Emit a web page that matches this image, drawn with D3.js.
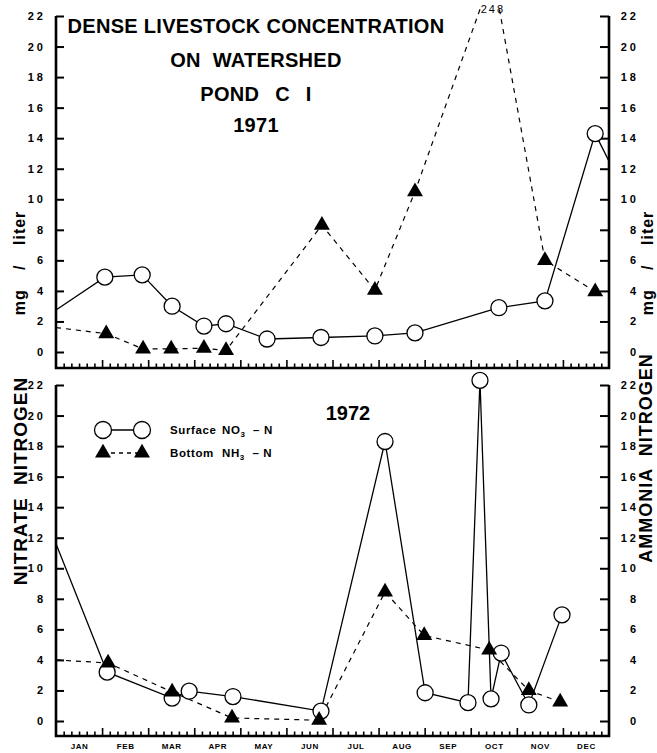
<!DOCTYPE html>
<html>
<head>
<meta charset="utf-8">
<script src="https://cdn.jsdelivr.net/npm/d3@7"></script>
<style>
  body { margin: 0; background: #fff; }
  svg { display: block; }
  text { font-family: "Liberation Sans", Arial, sans-serif; font-weight: bold; fill: #000; }
</style>
</head>
<body>
<div id="chart"></div>
<script>
// month labels along the bottom, tick values on both y axes
const months = ["JAN", "FEB", "MAR", "APR", "MAY", "JUN", "JUL", "AUG", "SEP", "OCT", "NOV", "DEC"];
const yTicks = [0, 2, 4, 6, 8, 10, 12, 14, 16, 18, 20, 22];

// positions are in months from Jan 1 (0) to Dec 31 (12), values in mg/liter
// 1971
const surface1971 = [[1.06, 4.9], [1.87, 5.05], [2.52, 3.0], [3.21, 1.7], [3.69, 1.85], [4.58, 0.85],
  [5.75, 0.95], [6.92, 1.05], [7.79, 1.25], [9.61, 2.9], [10.61, 3.35], [11.7, 14.3]];
const bottom1971 = [[1.09, 1.2], [1.89, 0.2], [2.5, 0.2], [3.21, 0.25], [3.69, 0.1], [5.77, 8.3],
  [6.92, 4.05], [7.79, 10.5], [9.48, 24.8], [10.61, 6.0], [11.7, 3.95]];
// where the lines enter / leave the frame (no marker there)
const surface1971In = [0, 2.75], surface1971Out = [12, 12.5];
const bottom1971In = [0, 1.6];
const offScale1971 = { at: 9.48, label: "248" };

// 1972
const surface1972 = [[1.11, 3.2], [2.52, 1.5], [2.89, 1.95], [3.84, 1.6], [5.75, 0.65], [7.14, 18.3],
  [8.01, 1.85], [8.94, 1.2], [9.2, 22.3], [9.44, 1.45], [9.66, 4.45], [10.26, 1.05], [10.98, 6.95]];
const bottom1972 = [[1.13, 3.8], [2.52, 1.9], [3.82, 0.2], [5.71, 0.05], [7.14, 8.45], [7.99, 5.6],
  [9.4, 4.65], [10.26, 2.0], [10.94, 1.25]];
const surface1972In = [0, 11.6];
const bottom1972In = [0, 4.0];

const width = 657, height = 753;
const x = d3.scaleLinear().domain([0, 12]).range([56, 609]);

const svg = d3.select("#chart").append("svg")
  .attr("width", width)
  .attr("height", height);

function drawPanel(y, axisY, clipId, surf, bott, showMonths) {
  const g = svg.append("g");

  // clip the lines to the frame (the 24.8 peak runs off the top)
  svg.append("clipPath").attr("id", clipId)
    .append("rect")
      .attr("x", x(0)).attr("y", y(22.6))
      .attr("width", x(12) - x(0)).attr("height", axisY - y(22.6));

  // frame: left axis, bottom axis, right axis
  g.append("path")
    .attr("d", `M${x(0)},${y(22)}V${axisY}H${x(12)}V${y(22)}`)
    .attr("fill", "none")
    .attr("stroke", "#000")
    .attr("stroke-width", 2.6);

  // y axes, ticks pointing inwards
  const left = g.append("g")
    .attr("transform", `translate(${x(0)},0)`)
    .call(d3.axisLeft(y).tickValues(yTicks).tickSizeInner(-8).tickSizeOuter(0).tickPadding(10));
  const right = g.append("g")
    .attr("transform", `translate(${x(12)},0)`)
    .call(d3.axisRight(y).tickValues(yTicks).tickSizeInner(-9).tickSizeOuter(0).tickPadding(10));
  [left, right].forEach(a => {
    a.select(".domain").remove();
    a.selectAll(".tick line").attr("stroke-width", 2);
    a.selectAll(".tick text")
      .attr("font-family", null)
      .style("font-size", "11px")
      .style("letter-spacing", "3px");
  });
  right.selectAll(".tick text").attr("text-anchor", "end").attr("x", 30);
  left.selectAll(".tick text").attr("x", -10);

  // month ticks along the bottom
  const minor = d3.range(0, 72).filter(i => i % 6 !== 0).map(i => i / 6);
  const major = d3.range(1, 12);
  [[minor, -4.5], [major, -8]].forEach(([vals, size]) => {
    const a = g.append("g")
      .attr("transform", `translate(0,${axisY})`)
      .call(d3.axisBottom(x).tickValues(vals).tickSize(size).tickFormat(""));
    a.select(".domain").remove();
    a.selectAll(".tick line").attr("stroke-width", 1.6);
  });

  if (showMonths) {
    const a = g.append("g")
      .attr("transform", `translate(0,${axisY})`)
      .call(d3.axisBottom(x).tickValues(d3.range(12).map(i => i + 0.5))
        .tickSize(0).tickPadding(7).tickFormat((d, i) => months[i]));
    a.select(".domain").remove();
    a.selectAll(".tick text")
      .attr("font-family", null)
      .style("font-size", "8px")
      .style("letter-spacing", "0.6px");
  }

  const line = d3.line().x(d => x(d[0])).y(d => y(d[1]));
  const lines = g.append("g").attr("clip-path", `url(#${clipId})`);

  lines.append("path")
    .attr("d", line(surf))
    .attr("fill", "none")
    .attr("stroke", "#000")
    .attr("stroke-width", 1.3);

  lines.append("path")
    .attr("d", line(bott))
    .attr("fill", "none")
    .attr("stroke", "#000")
    .attr("stroke-width", 1.2)
    .attr("stroke-dasharray", "5,5");

  return g;
}

function drawMarkers(g, y, surf, bott) {
  g.append("g").selectAll("circle")
    .data(surf.filter(d => d[1] <= 22.5))
    .join("circle")
      .attr("cx", d => x(d[0]))
      .attr("cy", d => y(d[1]))
      .attr("r", 8)
      .attr("fill", "#fff")
      .attr("stroke", "#000")
      .attr("stroke-width", 1.3);

  g.append("g").selectAll("path")
    .data(bott.filter(d => d[1] <= 22.5))
    .join("path")
      .attr("transform", d => `translate(${x(d[0])},${y(d[1])})`)
      .attr("d", d3.symbol(d3.symbolTriangle, 110))
      .attr("fill", "#000");
}

// top panel, 1971
const yTop = d3.scaleLinear().domain([0, 22]).range([352, 16]);
const topPanel = drawPanel(yTop, 368, "clipTop",
  [surface1971In, ...surface1971, surface1971Out],
  [bottom1971In, ...bottom1971], false);
drawMarkers(topPanel, yTop, surface1971, bottom1971);

topPanel.append("text")
  .attr("x", x(offScale1971.at))
  .attr("y", 13)
  .attr("text-anchor", "middle")
  .style("font-weight", "normal")
  .style("font-size", "11px")
  .style("letter-spacing", "2px")
  .text(offScale1971.label);

// bottom panel, 1972
const yBot = d3.scaleLinear().domain([0, 22]).range([721, 385]);
const botPanel = drawPanel(yBot, 736, "clipBot",
  [surface1972In, ...surface1972],
  [bottom1972In, ...bottom1972], true);
drawMarkers(botPanel, yBot, surface1972, bottom1972);

// title block
const titleLines = [
  { text: "DENSE LIVESTOCK CONCENTRATION", y: 33, ws: 0 },
  { text: "ON WATERSHED", y: 67, ws: 6 },
  { text: "POND C I", y: 101, ws: 10 },
  { text: "1971", y: 132, ws: 0 }
];
svg.append("g").selectAll("text")
  .data(titleLines)
  .join("text")
    .attr("x", 256)
    .attr("y", d => d.y)
    .attr("text-anchor", "middle")
    .style("font-size", "20px")
    .style("letter-spacing", "0.3px")
    .style("word-spacing", d => d.ws + "px")
    .text(d => d.text);

svg.append("text")
  .attr("x", 348).attr("y", 420)
  .attr("text-anchor", "middle")
  .style("font-size", "20px")
  .text("1972");

// axis titles
function vText(cx, cy, txt, size, ls, ws) {
  svg.append("text")
    .attr("transform", `translate(${cx},${cy}) rotate(-90)`)
    .attr("text-anchor", "middle")
    .attr("dy", "0.36em")
    .style("font-size", size + "px")
    .style("letter-spacing", ls + "px")
    .style("word-spacing", ws + "px")
    .text(txt);
}
vText(19, 263, "mg / liter", 16, 1, 14);
vText(647, 263, "mg / liter", 16, 1, 14);
vText(20, 481, "NITRATE NITROGEN", 19, 1, 6);
vText(646, 458, "AMMONIA NITROGEN", 18, 1, 6);

// legend
const legend = svg.append("g");
const legendRows = [
  { y: 430, name: "Surface", chem: ["NO", "3", " – N"], dash: null, mark: "circle" },
  { y: 453, name: "Bottom", chem: ["NH", "3", " – N"], dash: "4,4", mark: "tri" }
];
legendRows.forEach(r => {
  legend.append("line")
    .attr("x1", 103).attr("x2", 142)
    .attr("y1", r.y).attr("y2", r.y)
    .attr("stroke", "#000")
    .attr("stroke-width", 1.3)
    .attr("stroke-dasharray", r.dash);
  [103, 142].forEach(cx => {
    if (r.mark === "circle") {
      legend.append("circle")
        .attr("cx", cx).attr("cy", r.y).attr("r", 8.5)
        .attr("fill", "#fff").attr("stroke", "#000").attr("stroke-width", 1.3);
    } else {
      legend.append("path")
        .attr("transform", `translate(${cx},${r.y})`)
        .attr("d", d3.symbol(d3.symbolTriangle, 110));
    }
  });
  legend.append("text")
    .attr("x", 170).attr("y", r.y + 4)
    .style("font-size", "11.5px")
    .style("letter-spacing", "0.6px")
    .text(r.name);
  const t = legend.append("text")
    .attr("x", 222).attr("y", r.y + 4)
    .style("font-size", "11.5px")
    .style("letter-spacing", "0.6px");
  t.append("tspan").text(r.chem[0]);
  t.append("tspan").attr("dy", 3).style("font-size", "8px").text(r.chem[1]);
  t.append("tspan").attr("dy", -3).style("white-space", "pre").text(" " + r.chem[2]);
});
</script>
</body>
</html>
